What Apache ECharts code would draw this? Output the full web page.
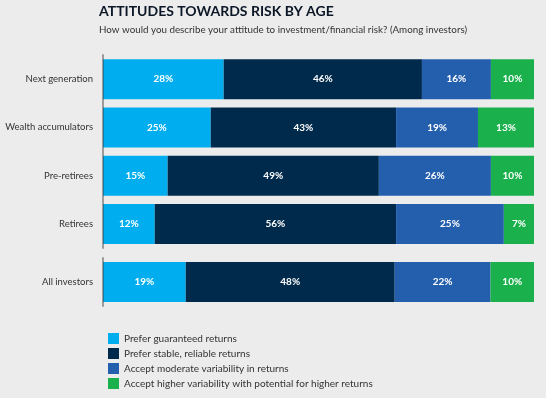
<!DOCTYPE html>
<html>
<head>
<meta charset="utf-8">
<script src="https://cdn.jsdelivr.net/npm/echarts@6/dist/echarts.min.js"></script>
<style>
  html, body { margin: 0; padding: 0; background: #ececec; }
  #chart { width: 546px; height: 398px; }
</style>
</head>
<body>
<div id="chart"></div>
<script>
// data
const categories = ['Next generation', 'Wealth accumulators', 'Pre-retirees', 'Retirees', 'All investors']
const guaranteed = [28, 25, 15, 12, 19]
const stable = [46, 43, 49, 56, 48]
const moderate = [16, 19, 26, 25, 22]
const higher = [10, 13, 10, 7, 10]

const seriesNames = [
  'Prefer guaranteed returns',
  'Prefer stable, reliable returns',
  'Accept moderate variability in returns',
  'Accept higher variability with potential for higher returns'
]
const colors = ['#00aeef', '#002a4c', '#245fae', '#1ab04c']
const allData = [guaranteed, stable, moderate, higher]

const font = 'Lato'
const chart = echarts.init(document.getElementById('chart'))

// age groups in the first grid, "All investors" in a second one (extra gap)
const groupCats = categories.slice(0, 4)
const allCats = categories.slice(4)
const allTotal = allData.reduce((s, arr) => s + arr[4], 0)

function makeSeries(gridIdx, from, to) {
  return allData.map((arr, i) => ({
    type: 'bar',
    name: seriesNames[i],
    stack: 'g' + gridIdx,
    xAxisIndex: gridIdx,
    yAxisIndex: gridIdx,
    barWidth: 40,
    data: arr.slice(from, to),
    itemStyle: { color: colors[i] },
    label: {
      show: true,
      formatter: '{c}%',
      color: '#fff',
      fontFamily: font,
      fontSize: 10,
      fontWeight: 'bold'
    }
  }))
}

const yAxisBase = {
  type: 'category',
  inverse: true,
  z: 5,
  axisLine: { show: true, lineStyle: { color: 'rgba(60,60,60,0.45)', width: 2 } },
  axisTick: { show: false },
  axisLabel: { color: '#333', fontFamily: font, fontSize: 9.5, margin: 10 }
}

const option = {
  backgroundColor: '#ececec',
  color: colors,
  animation: false,
  title: {
    text: 'ATTITUDES TOWARDS RISK BY AGE',
    subtext: 'How would you describe your attitude to investment/financial risk? (Among investors)',
    left: 94,
    top: -1,
    itemGap: 7,
    textStyle: { color: '#0b1626', fontFamily: font, fontSize: 14, fontWeight: 'bold' },
    subtextStyle: { color: '#333', fontFamily: font, fontSize: 9.8 }
  },
  legend: {
    orient: 'vertical',
    left: 103,
    top: 328,
    itemWidth: 11,
    itemHeight: 11,
    itemGap: 4,
    icon: 'rect',
    selectedMode: false,
    data: seriesNames,
    textStyle: { color: '#333', fontFamily: font, fontSize: 10, padding: [0, 0, 0, 0] }
  },
  grid: [
    { left: 103, right: 12, top: 55, height: 193, outerBoundsMode: 'none' },
    { left: 103, right: 12, top: 258, height: 48, outerBoundsMode: 'none' }
  ],
  xAxis: [
    { type: 'value', gridIndex: 0, min: 0, max: 100, show: false },
    { type: 'value', gridIndex: 1, min: 0, max: allTotal, show: false }
  ],
  yAxis: [
    Object.assign({ gridIndex: 0, data: groupCats }, yAxisBase),
    Object.assign({ gridIndex: 1, data: allCats }, yAxisBase)
  ],
  series: makeSeries(0, 0, 4).concat(makeSeries(1, 4, 5))
}

chart.setOption(option)
</script>
</body>
</html>
